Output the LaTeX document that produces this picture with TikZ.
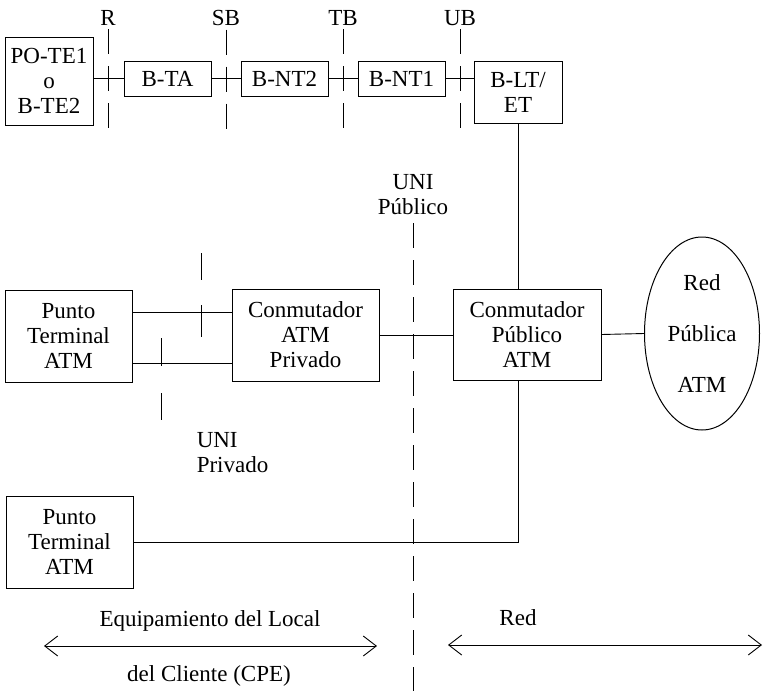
\documentclass[tikz,border=0pt]{standalone}
\usepackage{fontspec}
\setmainfont{Liberation Serif}
\usetikzlibrary{arrows.meta,shapes.geometric}

\begin{document}
\begin{tikzpicture}[x=1pt,y=-1pt,line width=0.9pt,
  every node/.style={font=\fontsize{23}{25}\selectfont},
  box/.style={draw,line width=1pt,align=center,inner sep=0pt},
  refline/.style={dash pattern=on 25pt off 12pt},
  biarrow/.style={{Straight Barb[length=13pt,width=20pt]}-{Straight Barb[length=13pt,width=20pt]}}]
\useasboundingbox (0,0) rectangle (763,691);
% fila de referencia B-ISDN
\node[box,minimum width=88pt,minimum height=88pt] (poTe) at (49,81) {PO-TE1\\o\\B-TE2};
\node[box,minimum width=87pt,minimum height=35pt] (bTA) at (167.5,78.5) {B-TA};
\node[box,minimum width=87pt,minimum height=35pt] (bNTdos) at (284.5,78.5) {B-NT2};
\node[box,minimum width=87pt,minimum height=35pt] (bNTuno) at (401.5,78.5) {B-NT1};
\node[box,minimum width=88pt,minimum height=62pt] (bLT) at (518,92) {B-LT/\\ET};
\draw (poTe.east |- bTA.west) -- (bTA.west);
\draw (bTA.east) -- (bNTdos.west);
\draw (bNTdos.east) -- (bNTuno.west);
\draw (bNTuno.east) -- (bNTuno.east -| bLT.west);
\node (lblR) at (108,18) {R};
\node (lblSB) at (226,18) {SB};
\node (lblTB) at (343,18) {TB};
\node (lblUB) at (460,18) {UB};
\draw[refline] (lblR.south) -- ++(0,103);
\draw[refline] (lblSB.south) -- ++(0,103);
\draw[refline] (lblTB.south) -- ++(0,103);
\draw[refline] (lblUB.south) -- ++(0,103);
% red ATM
\node[box,minimum width=127pt,minimum height=92pt] (ptA) at (68.5,336) {Punto\\Terminal\\ATM};
\node[box,minimum width=147pt,minimum height=92pt] (swPriv) at (305.5,335) {Conmutador\\ATM\\Privado};
\node[box,minimum width=148pt,minimum height=91pt] (swPub) at (527,334.5) {Conmutador\\Público\\ATM};
\node[draw,line width=1pt,ellipse,inner sep=0pt,align=center,minimum width=115pt,minimum height=193pt] (redPub) at (702,333.5) {Red\\[26pt]Pública\\[26pt]ATM};
\node[box,minimum width=127pt,minimum height=92pt] (ptB) at (69.5,542) {Punto\\Terminal\\ATM};
\draw ([yshift=24pt]ptA.east) -- ([yshift=24pt]ptA.east -| swPriv.west);
\draw ([yshift=-27pt]ptA.east) -- ([yshift=-27pt]ptA.east -| swPriv.west);
\draw (swPriv.east) -- (swPriv.east -| swPub.west);
\draw (swPub.east) -- (redPub.west);
\draw (bLT.south) -- (bLT.south |- swPub.north);
\draw (ptB.east) -| (bLT.south |- swPub.south);
\draw (201,253) -- (201,280) (201,305) -- (201,337);
\draw (161,338) -- (161,366) (161,393) -- (161,420);
\node[align=center] (uniPub) at (413,195) {UNI\\Público};
\node[anchor=west,align=left] (uniPriv) at (193,453) {UNI\\Privado};
\draw[refline] (413,223) -- (413,691);
% zonas
\node (lblCPEa) at (210,621) {Equipamiento del Local};
\node (lblCPEb) at (209,676) {del Cliente (CPE)};
\node (lblRed) at (518,618) {Red};
\coordinate (cpeL) at (44,646);
\coordinate (cpeR) at (377,646);
\coordinate (redL) at (448,645);
\coordinate (redR) at (762,645);
\draw[biarrow] (cpeL) -- (cpeR);
\draw[biarrow] (redL) -- (redR);
\end{tikzpicture}
\end{document}
